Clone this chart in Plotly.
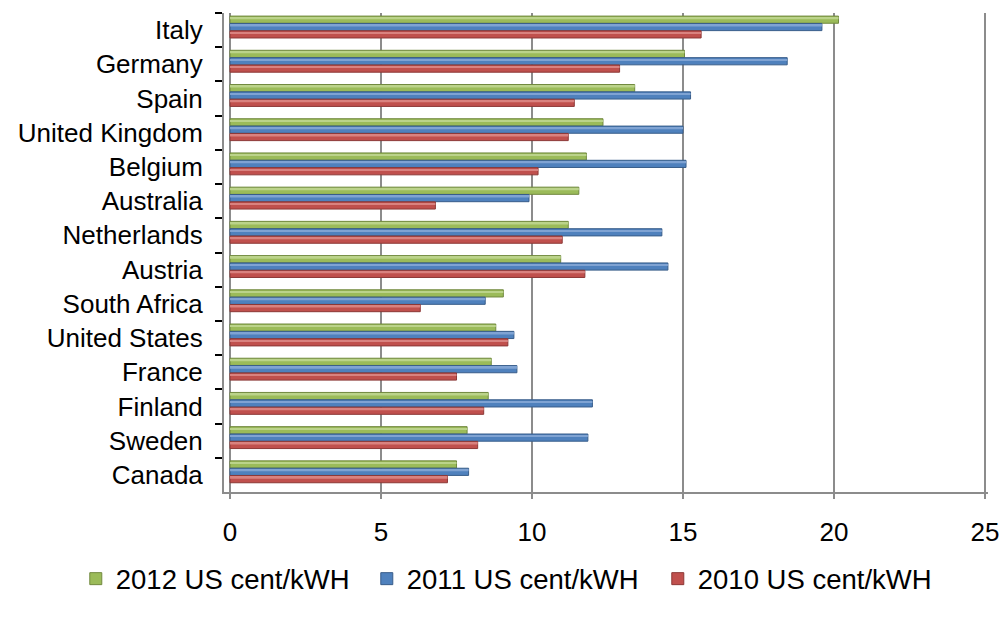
import plotly.graph_objects as go

countries = ["Italy", "Germany", "Spain", "United Kingdom", "Belgium", "Australia",
             "Netherlands", "Austria", "South Africa", "United States", "France",
             "Finland", "Sweden", "Canada"]
price_2012 = [20.15, 15.05, 13.4, 12.35, 11.8, 11.55, 11.2, 10.95, 9.05, 8.8, 8.65, 8.55, 7.85, 7.5]
price_2011 = [19.6, 18.45, 15.25, 15.0, 15.1, 9.9, 14.3, 14.5, 8.45, 9.4, 9.5, 12.0, 11.85, 7.9]
price_2010 = [15.6, 12.9, 11.4, 11.2, 10.2, 6.8, 11.0, 11.75, 6.3, 9.2, 7.5, 8.4, 8.2, 7.2]
x_ticks = [0, 5, 10, 15, 20, 25]

FONT = "Liberation Sans, Arial, sans-serif"

# name, values, fill, edge, highlight, offset within the category slot
series = [
    ("2012 US cent/kWH", price_2012, "#9BBB59", "#71893F", "#BBD38A", -0.41),
    ("2011 US cent/kWH", price_2011, "#4F81BD", "#385D8A", "#7FA3D3", -0.195),
    ("2010 US cent/kWH", price_2010, "#C0504D", "#8C3836", "#D9827F", 0.02),
]

fig = go.Figure()
for name, vals, fill, edge, light, off in series:
    fig.add_trace(go.Bar(
        y=countries, x=vals, name=name, orientation="h",
        width=0.21, offset=off,
        marker=dict(color=fill, line=dict(color=edge, width=1)),
    ))
    # lighter band along the upper part of each bar for a rounded look
    fig.add_trace(go.Bar(
        y=countries, x=vals, name=name, orientation="h",
        width=0.05, offset=off + 0.04, showlegend=False, hoverinfo="skip",
        marker=dict(color=light, line=dict(width=0)),
    ))

fig.update_layout(
    width=1005, height=621,
    margin=dict(l=224, r=17, t=13, b=129, autoexpand=False),
    paper_bgcolor="white", plot_bgcolor="white",
    barmode="overlay",
    font=dict(family=FONT, size=26, color="black"),
    showlegend=True,
    legend=dict(orientation="h", x=-0.194, xanchor="left", y=-0.13, yanchor="top",
                font=dict(size=27.5), entrywidth=246, entrywidthmode="pixels",
                itemwidth=30, tracegroupgap=0),
    xaxis=dict(range=[-0.2, 25.1], tickvals=x_ticks, showgrid=True,
               gridcolor="#8C8C8C", gridwidth=2, zeroline=False,
               showline=True, linecolor="#8C8C8C", linewidth=2,
               ticks="outside", ticklen=5, tickcolor="#8C8C8C", tickwidth=2,
               ticklabelstandoff=11),
    yaxis=dict(categoryorder="array", categoryarray=countries, autorange="reversed",
               showgrid=False, showline=True, linecolor="#8C8C8C", linewidth=2,
               ticks="outside", tickson="boundaries", ticklen=7, tickcolor="black",
               tickwidth=2, ticklabelstandoff=14),
)

fig.write_html("out.html")
